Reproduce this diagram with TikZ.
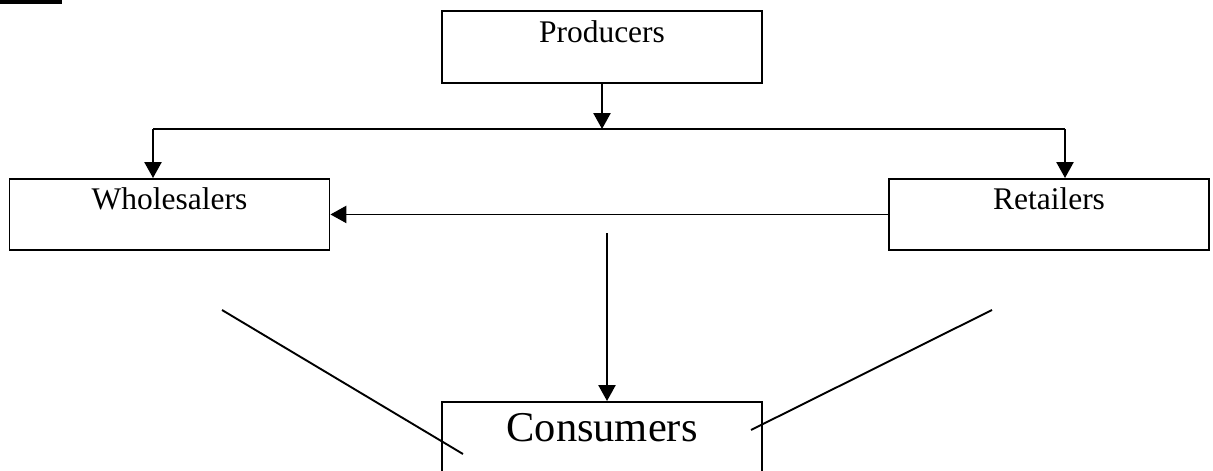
\documentclass[tikz,border=0pt]{standalone}
\usepackage{fontspec}
\setmainfont{Liberation Serif}
\usetikzlibrary{arrows.meta}

\begin{document}
\begin{tikzpicture}[
		box/.style={draw, line width=1.35pt, rectangle, inner sep=0pt, text width=8cm, align=center, anchor=north, font=\fontsize{22.4}{26}\selectfont},
		flow/.style={line width=1.35pt, -{Triangle[length=0.4cm,width=0.43cm]}},
		plain/.style={line width=1.35pt}]
		\clip (0,0) rectangle (30.325,-11.775);
		
		% Corner mark
		\fill[black] (0,0) rectangle (1.55,-0.11);
		
		% Boxes
		\node[box, text height=0.8cm, text depth=1cm] (producers) at (15.05,-0.25) {Producers};
		\node[box, text height=0.775cm, text depth=1cm] (wholesalers) at (4.2375,-4.45) {Wholesalers};
		\node[box, text height=0.775cm, text depth=1cm] (retailers) at (26.225,-4.45) {Retailers};
		\node[box, text height=1cm, text depth=1.4cm, font=\fontsize{30.2}{36}\selectfont] (consumers) at (15.05,-10.025) {Consumers};
		
		% Points
		\coordinate (split) at (15.0,-3.225);
		\coordinate (leftdrop) at (3.825,-3.225);
		\coordinate (rightdrop) at (26.625,-3.225);
		\coordinate (midstart) at (15.175,-5.825);
		\coordinate (lineA) at (5.55,-7.75);
		\coordinate (lineB) at (11.575,-11.35);
		\coordinate (lineC) at (18.775,-10.75);
		\coordinate (lineD) at (24.8,-7.75);
		
		% Arrows
		\draw[flow] (producers.south) -- (producers.south |- split);
		\draw[plain] (leftdrop) -- (rightdrop);
		\draw[flow] (leftdrop) -- (leftdrop |- wholesalers.north);
		\draw[flow] (rightdrop) -- (rightdrop |- retailers.north);
		\draw[flow] (retailers.west) -- (wholesalers.east);
		\draw[flow] (midstart) -- (midstart |- consumers.north);
		
		% Lines
		\draw[plain] (lineA) -- (lineB);
		\draw[plain] (lineC) -- (lineD);
	\end{tikzpicture}
\end{document}
